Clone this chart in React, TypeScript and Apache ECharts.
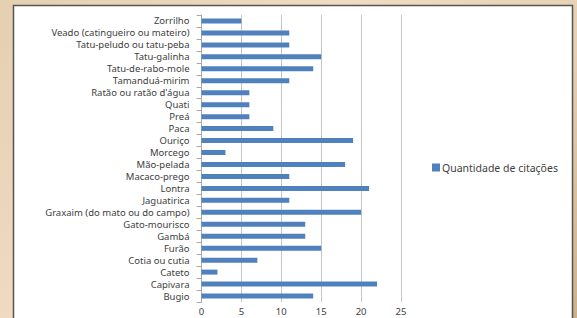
import React, { useEffect, useRef } from "react";
import * as echarts from "echarts";

const categories = [
  "Zorrilho",
  "Veado (catingueiro ou mateiro)",
  "Tatu-peludo ou tatu-peba",
  "Tatu-galinha",
  "Tatu-de-rabo-mole",
  "Tamanduá-mirim",
  "Ratão ou ratão d'água",
  "Quati",
  "Preá",
  "Paca",
  "Ouriço",
  "Morcego",
  "Mão-pelada",
  "Macaco-prego",
  "Lontra",
  "Jaguatirica",
  "Graxaim (do mato ou do campo)",
  "Gato-mourisco",
  "Gambá",
  "Furão",
  "Cotia ou cutia",
  "Cateto",
  "Capivara",
  "Bugio",
];

const citacoes = [5, 11, 11, 15, 14, 11, 6, 6, 6, 9, 19, 3, 18, 11, 21, 11, 20, 13, 13, 15, 7, 2, 22, 14];

const seriesName = "Quantidade de citações";

export default function App() {
  const ref = useRef<HTMLDivElement>(null);
  useEffect(() => {
    if (!ref.current) return;
    const chart = echarts.init(ref.current, null, { renderer: "svg" });
    const font = "'Noto Sans', sans-serif";
    chart.setOption({
      animation: false,
      graphic: [
        {
          type: "rect",
          z: -10,
          silent: true,
          shape: { x: 13.5, y: 5.5, width: 559, height: 330 },
          style: { fill: "#ffffff", stroke: "#555555", lineWidth: 1.5 },
        },
      ],
      legend: {
        left: 427,
        top: 157,
        itemWidth: 8,
        itemHeight: 8,
        itemGap: 4,
        icon: "rect",
        textStyle: { fontSize: 10.5, color: "#404040", fontFamily: font, padding: [0, 0, 0, -3] },
        data: [seriesName],
      },
      grid: { left: 201.5, right: 176, top: 15, bottom: 16, containLabel: false },
      xAxis: {
        type: "value",
        min: 0,
        max: 25,
        interval: 5,
        axisLine: { show: false },
        axisTick: { show: false },
        splitLine: { show: true, lineStyle: { color: "#c4c4c4", width: 1 } },
        axisLabel: { margin: 4, fontSize: 9.5, lineHeight: 11, color: "#404040", fontFamily: font },
      },
      yAxis: {
        type: "category",
        inverse: true,
        data: categories,
        axisLine: { show: true, lineStyle: { color: "#a8a8a8", width: 1 } },
        axisTick: { show: true, length: 5, lineStyle: { color: "#a8a8a8" } },
        axisLabel: {
          interval: 0,
          margin: 12,
          fontSize: 9.5,
          lineHeight: 11,
          color: "#404040",
          fontFamily: font,
        },
        splitLine: { show: false },
      },
      series: [
        {
          name: seriesName,
          type: "bar",
          data: citacoes,
          barWidth: 5,
          itemStyle: { color: "#4f81bd" },
        },
      ],
    });
    return () => chart.dispose();
  }, []);
  return (
    <div
      style={{
        position: "fixed",
        left: 0,
        top: 0,
        width: 577,
        height: 318,
        background: "linear-gradient(135deg, #e4cfb0 0%, #efdcc2 40%, #e6d0b2 70%, #cdb38c 100%)",
      }}
    >
      <div ref={ref} style={{ width: 577, height: 318 }} />
    </div>
  );
}
